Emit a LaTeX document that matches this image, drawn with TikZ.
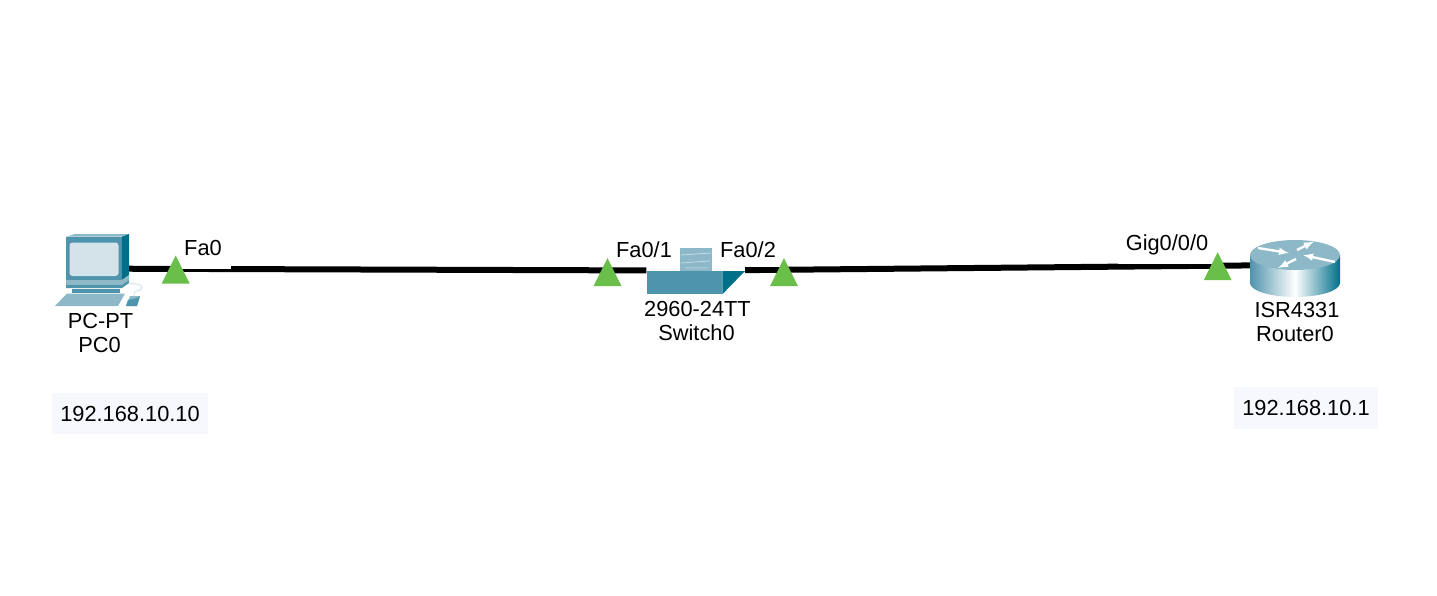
\documentclass[tikz,border=0pt]{standalone}
\usepackage{fontspec}
\setmainfont{Liberation Sans}
\usetikzlibrary{shapes,arrows,positioning}
\definecolor{portgreen}{RGB}{106, 191, 75}
\definecolor{devlight}{RGB}{140, 184, 200}
\definecolor{devmid}{RGB}{79, 148, 173}
\definecolor{devdark}{RGB}{0, 111, 138}
\definecolor{devscreen}{RGB}{212, 227, 234}
\definecolor{notebg}{RGB}{247, 248, 254}
\tikzset{
  device/.style = {rectangle, inner sep=0pt, fill=white},
  port/.style = {isosceles triangle, shape border rotate=90, isosceles triangle stretches, fill=portgreen, inner sep=0pt, minimum width=28pt, minimum height=28pt},
  pbox/.style = {rectangle, fill=white, inner sep=0pt},
  plabel/.style = {inner sep=0pt, font=\fontsize{21.8}{26}\selectfont},
  dlabel/.style = {inner sep=0pt, text height=15.6pt, text depth=0pt, font=\fontsize{21.8}{26}\selectfont},
  note/.style = {rectangle, fill=notebg, inner sep=0pt, font=\fontsize{21.8}{26}\selectfont},
  link/.style = {draw, black, line width=6pt},
  rarrow/.style = {draw, white, line width=2.4pt, >=latex, ->}
}
\begin{document}
\begin{tikzpicture}[x=1pt, y=-1pt]
\useasboundingbox (0,0) rectangle (1437,596);

% devices ================================
\node[device, minimum width=84pt, minimum height=68pt, fill=none] (pc) at (87,268.6) {};
\node[device, minimum width=98.3pt, minimum height=47pt] (sw) at (695.8,270.6) {};
\node[device, minimum width=90pt, minimum height=46pt, fill=none] (rt) at (1295,265) {};

% cables
\path[link] (pc) -- (sw);
\path[link] (sw) -- (rt);

% pc
\fill[devmid] (66,236.7) rectangle (122,280);
\fill[devlight] (66,236.7) -- (75,234) -- (129,234) -- (122,236.7) -- cycle;
\fill[devdark] (122,236.7) -- (129,234) -- (129,275) -- (122,280) -- cycle;
\fill[devscreen, rounded corners=3pt] (69.5,242.5) rectangle (118.5,276);
\fill[devlight] (66,280) -- (122,280) -- (129,275) -- (129,280) -- (122,285) -- (66,285) -- cycle;
\fill[devmid] (66,285) -- (122,285) -- (129,280) -- (129,283) -- (122,288) -- (66,288) -- cycle;
\fill[devmid] (72,288.5) rectangle (120,293);
\fill[devlight] (55,306) -- (67,293.5) -- (125,293.5) -- (118,306) -- cycle;
\fill[devlight] (126,306) -- (130,296) -- (140,296) -- (137,306) -- cycle;
\fill[devmid] (126,306) -- (137,306) -- (140,296) -- (137,298) -- (128,300) -- cycle;
\draw[devscreen, line width=1pt] (129,284) .. controls (145,282) and (145,291) .. (136,291) .. controls (134,291) and (134,294) .. (134,296);

% switch
\fill[devlight] (680,247.7) rectangle (712,271);
\draw[white!50!devlight, line width=0.8pt] (681,255) -- (711,253) (681,263) -- (710,261) (685,268) -- (708,268);
\fill[devmid] (646.7,271) rectangle (722.3,294.3);
\fill[devdark] (722.3,271) -- (745,271) -- (722.3,294.3) -- cycle;

% router
\shade[left color=devmid, right color=devdark, middle color=white, shading angle=90]
  (1250,255) -- (1250,283) arc[start angle=180, end angle=360, x radius=45, y radius=-14] -- (1340,255) -- cycle;
\fill[devlight] (1295,255) ellipse[x radius=45, y radius=15];
\path[rarrow] (1258,248) -- (1289,253);
\path[rarrow] (1297,250) -- (1314,241.5);
\path[rarrow] (1335,262) -- (1303,255);
\path[rarrow] (1296,259) -- (1278,268);

% port labels
\node[pbox, minimum width=55pt, minimum height=33pt] (fa0box) at (203,252.5) {};
\node[pbox, minimum width=72pt, minimum height=30pt] (fa01box) at (644,252) {};
\node[pbox, minimum width=72pt, minimum height=30pt] (fa02box) at (748,252) {};
\node[pbox, minimum width=98pt, minimum height=34pt] (gigbox) at (1167,247.3) {};
\node[plabel] (fa0) at (203,247.5) {Fa0};
\node[plabel] (fa01) at (644,249.5) {Fa0/1};
\node[plabel] (fa02) at (748,249.5) {Fa0/2};
\node[plabel] (gig) at (1167,245) {Gig0/0/0};

% ports
\node[port, anchor=apex] (p1) at (175.7,255) {};
\node[port, anchor=apex] (p2) at (607.5,257.7) {};
\node[port, anchor=apex] (p3) at (784,257.7) {};
\node[port, anchor=apex] (p4) at (1217.7,251.7) {};

% device names
\node[dlabel] (pcmodel) at (100.5,321) {PC-PT};
\node[dlabel, below=8pt of pcmodel, xshift=-1pt] (pcname) {PC0};
\node[dlabel] (swmodel) at (697.5,309) {2960-24TT};
\node[dlabel, below=7.8pt of swmodel, xshift=-1pt] (swname) {Switch0};
\node[dlabel] (rtmodel) at (1297,310) {ISR4331};
\node[dlabel, below=8pt of rtmodel, xshift=-2pt] (rtname) {Router0};

% addresses
\node[note, minimum width=156pt, minimum height=41pt] (ip1) at (130,413.5) {192.168.10.10};
\node[note, minimum width=144pt, minimum height=42pt] (ip2) at (1306,408) {192.168.10.1};

\end{tikzpicture}
\end{document}
